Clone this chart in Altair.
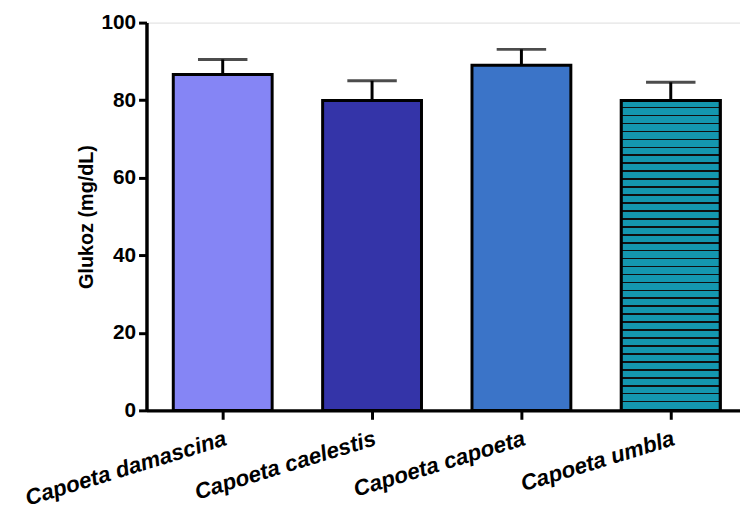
import altair as alt
import pandas as pd

species = ["Capoeta damascina", "Capoeta caelestis", "Capoeta capoeta", "Capoeta umbla"]
means = [86.6, 79.9, 89.0, 79.9]
sds = [3.9, 5.1, 4.1, 4.7]
colors = ["#8585F5", "#3434A8", "#3B74C8", "#1497AF"]

df = pd.DataFrame({"species": species, "mean": means, "sd": sds})
df["upper"] = df["mean"] + df["sd"]

FONT = "Liberation Sans"

xenc = alt.X(
    "species:N",
    sort=species,
    scale=alt.Scale(paddingInner=0.338, paddingOuter=0.156, align=0.575),
    axis=alt.Axis(
        title=None,
        labelAngle=-17,
        labelAlign="right",
        labelBaseline="top",
        labelFontSize=22.5,
        labelFontWeight="bold",
        labelFontStyle="italic",
        labelColor="black",
        labelPadding=8,
        labelLimit=400,
        labelOverlap=False,
        tickSize=9,
        tickWidth=3,
        tickColor="black",
        domainWidth=3.5,
        domainColor="black",
        labelFont=FONT,
    ),
)

yscale = alt.Scale(domain=[0, 100], nice=False)
yaxis = alt.Axis(
    title="Glukoz (mg/dL)",
    values=[0, 20, 40, 60, 80, 100],
    grid=False,
    labelFontSize=21,
    labelFontWeight="bold",
    labelColor="black",
    labelFont=FONT,
    labelPadding=3,
    tickSize=8,
    tickWidth=3,
    tickColor="black",
    domainWidth=3.5,
    domainColor="black",
    titleFontSize=20,
    titleFontWeight="bold",
    titleFont=FONT,
    titleColor="black",
    titlePadding=5,
)

base = alt.Chart(df).encode(x=xenc)

rule = base.mark_rule(strokeWidth=3, color="black").encode(
    y=alt.Y("mean:Q", scale=yscale, axis=yaxis), y2="upper:Q"
)
cap = base.mark_tick(size=50, thickness=3, color="black").encode(
    y=alt.Y("upper:Q", scale=yscale)
)
bars = base.mark_bar(stroke="black", strokeWidth=3).encode(
    y=alt.Y("mean:Q", scale=yscale, axis=yaxis),
    color=alt.Color("species:N", scale=alt.Scale(domain=species, range=colors), legend=None),
)

# striped fill for the last bar (style only)
n_stripes = 39
stops = []
for i in range(n_stripes):
    a = i / n_stripes
    b = (i + 0.79) / n_stripes
    c = (i + 1) / n_stripes
    stops += [
        alt.GradientStop(color="#1497AF", offset=a),
        alt.GradientStop(color="#1497AF", offset=b),
        alt.GradientStop(color="#111111", offset=b),
        alt.GradientStop(color="#111111", offset=c),
    ]
stripes = (
    alt.Chart(df)
    .transform_filter(alt.datum.species == "Capoeta umbla")
    .mark_bar(
        stroke="black",
        strokeWidth=3,
        fill=alt.LinearGradient(gradient="linear", stops=stops, x1=0, x2=0, y1=0, y2=1),
    )
    .encode(x=xenc, y=alt.Y("mean:Q", scale=yscale))
)

chart = (
    alt.layer(rule, cap, bars, stripes)
    .properties(
        width=600,
        height=392,
        padding={"left": 140, "top": 12, "right": 0, "bottom": 102},
        autosize=alt.AutoSizeParams(type="none"),
    )
    .configure_view(stroke=None)
    .configure(font=FONT)
)

chart.save("out.html", embed_options={"renderer": "svg", "actions": False})
